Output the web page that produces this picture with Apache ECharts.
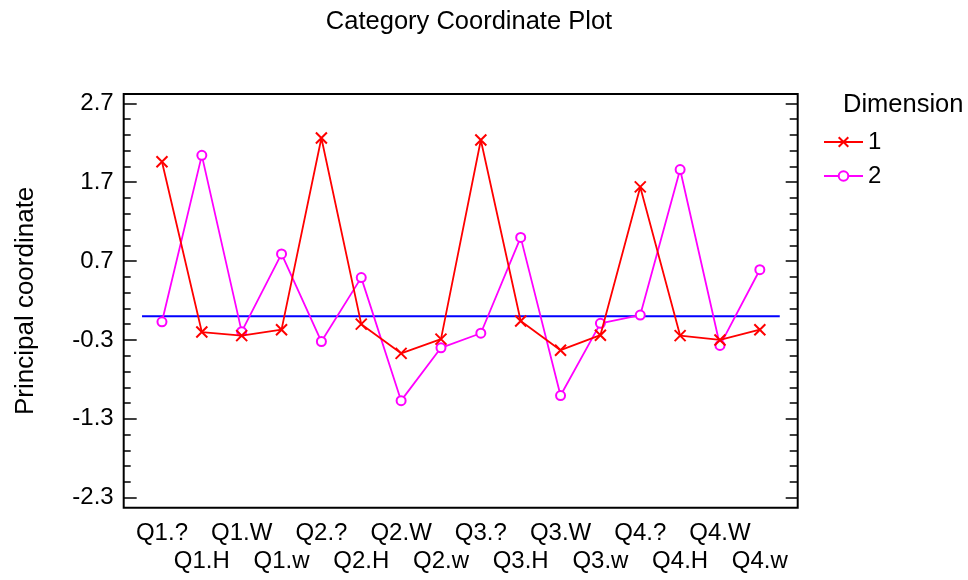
<!DOCTYPE html>
<html>
<head>
<meta charset="utf-8">
<script src="https://cdn.jsdelivr.net/npm/echarts@6/dist/echarts.min.js"></script>
<style>html,body{margin:0;padding:0;background:#fff;}#c{width:968px;height:580px;}</style>
</head>
<body>
<div id="c"></div>
<script>
const categories = ['Q1.?','Q1.H','Q1.W','Q1.w','Q2.?','Q2.H','Q2.W','Q2.w','Q3.?','Q3.H','Q3.W','Q3.w','Q4.?','Q4.H','Q4.W','Q4.w'];
const dimension1 = [1.96,-0.20,-0.245,-0.17,2.26,-0.10,-0.47,-0.29,2.235,-0.06,-0.43,-0.24,1.64,-0.245,-0.30,-0.17];
const dimension2 = [-0.07,2.04,-0.195,0.79,-0.32,0.49,-1.07,-0.40,-0.215,1.0,-1.005,-0.09,0.015,1.86,-0.37,0.59];
const yTickLabels = [-2.3,-1.3,-0.3,0.7,1.7,2.7];
const yMinorTicks = [-2.3,-2.1,-1.9,-1.7,-1.5,-1.3,-1.1,-0.9,-0.7,-0.5,-0.3,-0.1,0.1,0.3,0.5,0.7,0.9,1.1,1.3,1.5,1.7,1.9,2.1,2.3,2.5,2.7];
const zeroLine = [[0.5,0],[16.5,0]];

const FONT = "'Liberation Sans', Arial, sans-serif";
const FS = 24;
const positions = categories.map((c,i)=>i+1);
const oddPositions = positions.filter((p,i)=>i%2===0);
const evenPositions = positions.filter((p,i)=>i%2===1);
const chart = echarts.init(document.getElementById('c'));
const crossPath = 'path://M0,0L10,10M10,0L0,10';
const yMin = -2.427, yMax = 2.818;

function yAxisDef(pos, major, len, showLabel) {
  return {
    type:'value', position:pos, min:yMin, max:yMax,
    axisLine:{show:false}, splitLine:{show:false},
    axisTick:{show:true, inside:true, length:len, customValues: major ? yTickLabels : yMinorTicks,
      lineStyle:{color:'#000', width:1.5}},
    axisLabel:{show:showLabel, customValues: yTickLabels, margin:10, color:'#000', fontSize:FS, fontFamily:FONT,
      showMinLabel:true, showMaxLabel:true, formatter:v=>v.toFixed(1)},
    name: showLabel ? 'Principal coordinate' : '',
    nameLocation:'middle', nameRotate:90, nameGap:85,
    nameTextStyle:{color:'#000', fontSize:26, fontFamily:FONT}
  };
}
function xAxisDef(vals, margin) {
  return {
    type:'value', position:'bottom', min:0.04, max:16.95,
    axisLine:{show:false}, splitLine:{show:false}, axisTick:{show:false},
    axisLabel:{customValues: vals, margin:margin, color:'#000', fontSize:FS, fontFamily:FONT,
      showMinLabel:true, showMaxLabel:true, hideOverlap:false,
      formatter:v=>categories[Math.round(v)-1]}
  };
}

chart.setOption({
  animation:false,
  backgroundColor:'#fff',
  title:[
    {text:'Category Coordinate Plot', left:464, top:4, textAlign:'center',
     textStyle:{fontSize:25.5, fontWeight:'normal', color:'#000', fontFamily:FONT}},
    {text:'Dimension', left:838, top:87,
     textStyle:{fontSize:25.5, fontWeight:'normal', color:'#000', fontFamily:FONT}}
  ],
  legend:{
    orient:'vertical', left:823, top:130, padding:0, itemWidth:39, itemHeight:12, itemGap:10,
    data:['1','2'],
    textStyle:{fontSize:FS, color:'#000', fontFamily:FONT}
  },
  grid:{left:123.7, right:170.3, top:94, bottom:72.3, show:true, borderColor:'#000', borderWidth:2, backgroundColor:'transparent'},
  xAxis:[xAxisDef(oddPositions, 14), xAxisDef(evenPositions, 42)],
  yAxis:[
    yAxisDef('left', true, 13, true),
    yAxisDef('left', false, 7, false),
    yAxisDef('right', true, 12, false),
    yAxisDef('right', false, 8, false)
  ],
  series:[
    {name:'zero', type:'line', data:zeroLine, symbol:'none', silent:true, z:1,
     lineStyle:{color:'#0000ff', width:2}},
    {name:'1', type:'line', data:positions.map((x,i)=>[x,dimension1[i]]), z:3,
     symbol:crossPath, symbolSize:11,
     itemStyle:{color:'#ff0000', borderColor:'#ff0000', borderWidth:2},
     lineStyle:{color:'#ff0000', width:1.8}},
    {name:'2', type:'line', data:positions.map((x,i)=>[x,dimension2[i]]), z:2,
     symbol:'emptyCircle', symbolSize:9,
     itemStyle:{color:'#ff00ff', borderColor:'#ff00ff', borderWidth:1.6},
     lineStyle:{color:'#ff00ff', width:1.8}}
  ]
});
</script>
</body>
</html>
